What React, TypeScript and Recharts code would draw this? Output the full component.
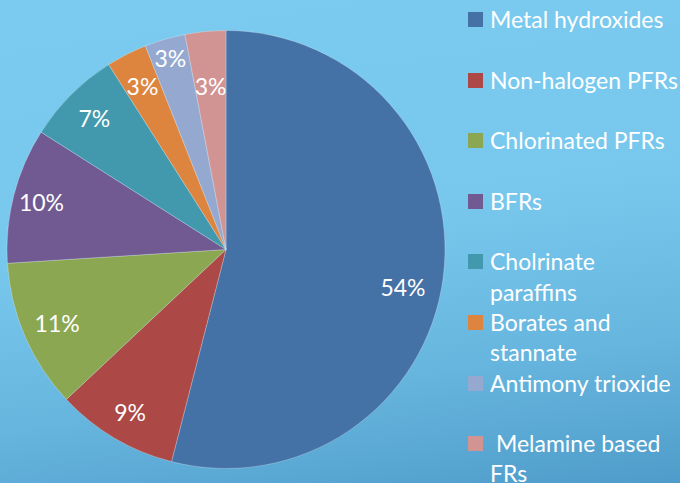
import { PieChart, Pie, Cell, Legend } from "recharts";

const categories = [
  "Metal hydroxides",
  "Non-halogen PFRs",
  "Chlorinated PFRs",
  "BFRs",
  "Cholrinate paraffins",
  "Borates and stannate",
  "Antimony trioxide",
  " Melamine based FRs",
];
const shares = [54, 9, 11, 10, 7, 3, 3, 3];
const colors = [
  "#4471a6",
  "#ac4946",
  "#8ca752",
  "#715a91",
  "#4298ad",
  "#dd853e",
  "#95a9d0",
  "#d29393",
];

const data = categories.map((name, i) => ({ name, value: shares[i] }));

const FONT = "Lato, 'Open Sans', sans-serif";
const RAD = Math.PI / 180;
// Excel's best-fit labels sit at slightly different spots
const labelRadius = [0.826, 0.86, 0.84, 0.87, 0.85, 0.84, 0.91, 0.75];
const labelTurn = [-4.8, 0, 0, 0, 0, 0, 0, 0];

const renderLabel = (props: any) => {
  const { cx, cy, midAngle, outerRadius, index, value } = props;
  const r = outerRadius * labelRadius[index];
  const a = (midAngle + labelTurn[index]) * RAD;
  const x = cx + r * Math.cos(-a);
  const y = cy + r * Math.sin(-a);
  return (
    <text
      x={x}
      y={y}
      fill="#ffffff"
      textAnchor="middle"
      dominantBaseline="central"
      fontFamily={FONT}
      fontSize={23}
    >
      {`${value}%`}
    </text>
  );
};

const renderLegend = () => (
  <div style={{ fontFamily: FONT, fontSize: 23, color: "#ffffff" }}>
    {categories.map((name, i) => (
      <div
        key={name}
        style={{
          height: 60.6,
          display: "flex",
          alignItems: "flex-start",
          lineHeight: "30.3px",
        }}
      >
        <span
          style={{
            width: 15,
            height: 15,
            background: colors[i],
            flex: "none",
            marginTop: 8,
            marginRight: 7,
          }}
        />
        <span style={{ width: 192, whiteSpace: "pre-wrap" }}>{name}</span>
      </div>
    ))}
  </div>
);

export default function App() {
  return (
    <div
      style={{
        position: "absolute",
        left: 0,
        top: 0,
        width: 680,
        height: 483,
        overflow: "hidden",
        background:
          "linear-gradient(172deg, #7bcaef 0%, #78c8ee 45%, #66b5de 75%, #4f9cca 100%)",
      }}
    >
      <PieChart
        width={680}
        height={483}
        margin={{ top: 0, right: 0, bottom: 0, left: 0 }}
      >
        <Pie
          data={data}
          dataKey="value"
          nameKey="name"
          cx={226}
          cy={249.5}
          outerRadius={219}
          startAngle={90}
          endAngle={-270}
          stroke="rgba(255,255,255,0.25)"
          strokeWidth={1}
          label={renderLabel}
          labelLine={false}
          isAnimationActive={false}
        >
          {data.map((d, i) => (
            <Cell key={d.name} fill={colors[i]} />
          ))}
        </Pie>
        <Legend
          layout="vertical"
          verticalAlign="top"
          align="right"
          content={renderLegend}
          wrapperStyle={{ top: 4, left: 468, width: 212 }}
        />
      </PieChart>
    </div>
  );
}
